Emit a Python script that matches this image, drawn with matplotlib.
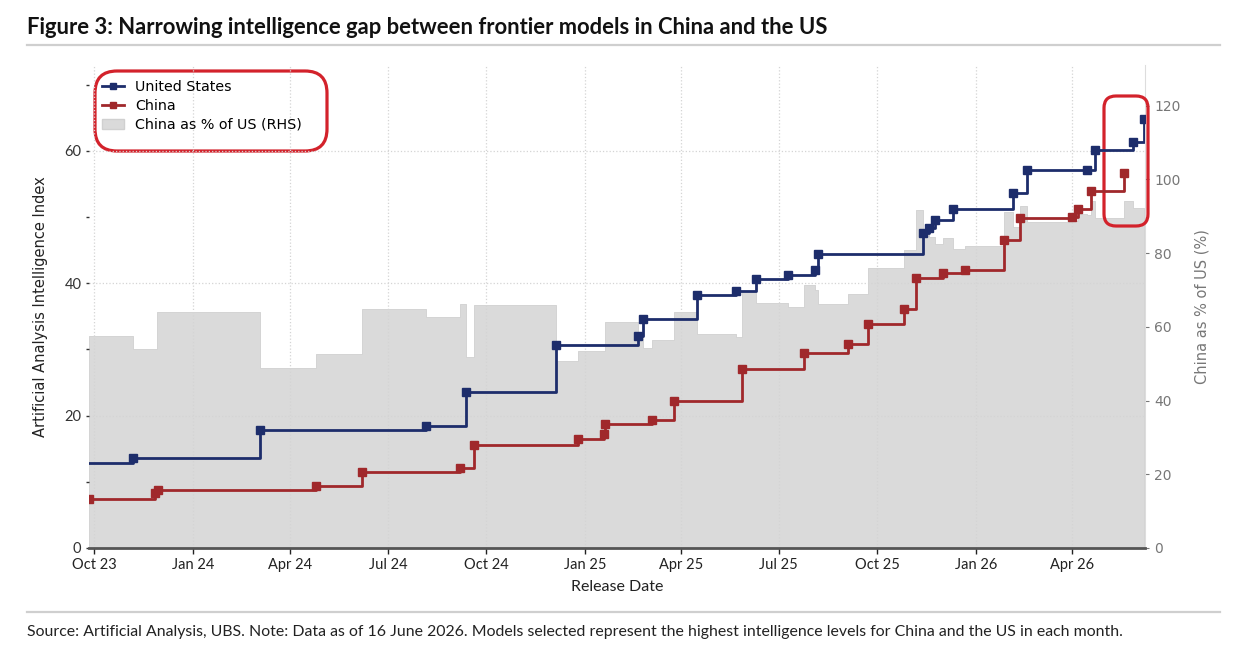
# Narrowing intelligence gap between frontier models in China and the US
import pandas as pd
import matplotlib
matplotlib.use("Agg")
import matplotlib.pyplot as plt
import matplotlib.dates as mdates
from matplotlib.patches import Patch, FancyBboxPatch
from matplotlib.lines import Line2D
from matplotlib.transforms import IdentityTransform

# Artificial Analysis Intelligence Index, best model so far (step series)
us_dates = ['2023-09-01', '2023-11-06', '2024-03-04', '2024-08-06', '2024-09-12',
            '2024-12-05', '2025-02-20', '2025-02-24', '2025-04-16', '2025-05-22',
            '2025-06-10', '2025-07-10', '2025-08-04', '2025-08-07', '2025-11-13',
            '2025-11-18', '2025-11-24', '2025-12-11', '2026-02-05', '2026-02-18',
            '2026-04-15', '2026-04-22', '2026-05-28', '2026-06-07']
us_index = [12.8, 13.6, 17.8, 18.5, 23.6, 30.7, 32.0, 34.6, 38.3, 38.8,
            40.6, 41.3, 42.0, 44.5, 47.6, 48.4, 49.5, 51.3, 53.6, 57.1,
            57.2, 60.1, 61.4, 64.8]

cn_dates = ['2023-09-26', '2023-11-27', '2023-11-29', '2024-04-25', '2024-06-07',
            '2024-09-06', '2024-09-19', '2024-12-26', '2025-01-19', '2025-01-20',
            '2025-03-05', '2025-03-25', '2025-05-28', '2025-07-25', '2025-09-04',
            '2025-09-22', '2025-10-26', '2025-11-06', '2025-12-01', '2025-12-22',
            '2026-01-27', '2026-02-11', '2026-04-01', '2026-04-06', '2026-04-19',
            '2026-05-19']
cn_index = [7.4, 8.3, 8.8, 9.3, 11.5, 12.1, 15.5, 16.4, 17.2, 18.7,
            19.4, 22.2, 27.0, 29.4, 30.8, 33.8, 36.1, 40.8, 41.6, 42.0,
            46.6, 49.8, 50.0, 51.2, 53.9, 56.6]

pct_dates = ['2023-09-26', '2023-11-06', '2023-11-28', '2024-03-04', '2024-04-25',
             '2024-06-07', '2024-08-06', '2024-09-06', '2024-09-12', '2024-09-19',
             '2024-12-05', '2024-12-26', '2025-01-20', '2025-02-20', '2025-02-24',
             '2025-03-05', '2025-03-25', '2025-04-16', '2025-05-22', '2025-05-28',
             '2025-06-10', '2025-07-10', '2025-07-25', '2025-08-04', '2025-08-07',
             '2025-09-04', '2025-09-22', '2025-10-26', '2025-11-06', '2025-11-13',
             '2025-11-18', '2025-11-24', '2025-12-01', '2025-12-11', '2025-12-22',
             '2026-01-27', '2026-02-05', '2026-02-11', '2026-02-18', '2026-04-01',
             '2026-04-06', '2026-04-15', '2026-04-19', '2026-04-22', '2026-05-19',
             '2026-05-28', '2026-06-07']
pct_values = [57.6, 53.9, 64.1, 48.7, 52.6, 64.8, 62.7, 66.1, 51.7, 65.9,
              50.8, 53.5, 61.2, 57.5, 54.2, 56.5, 64.1, 58.0, 57.2, 69.6,
              66.5, 65.4, 71.2, 70.0, 66.1, 69.0, 76.0, 80.8, 91.6, 85.7,
              84.3, 82.4, 84.0, 81.1, 81.9, 91.0, 87.0, 92.8, 88.5, 88.8,
              90.5, 90.2, 94.0, 89.6, 94.1, 92.2, 87.3]

title = "Figure 3: Narrowing intelligence gap between frontier models in China and the US"
source = ("Source: Artificial Analysis, UBS. Note: Data as of 16 June 2026. Models selected "
          "represent the highest intelligence levels for China and the US in each month.")

us_d = pd.to_datetime(us_dates)
cn_d = pd.to_datetime(cn_dates)
pct_d = pd.to_datetime(pct_dates)

navy = '#1d2d6b'
red = '#a0282b'
grey = '#dadada'

fig = plt.figure(figsize=(12.35, 6.53), dpi=100)
ax = fig.add_axes([0.0721, 0.1608, 0.8550, 0.7397])
ax2 = ax.twinx()

# grey area on the right axis, behind the lines
ax2.fill_between(pct_d, pct_values, step='post', facecolor=grey,
                 edgecolor='#d0d0d0', linewidth=0.6)
ax2.set_ylim(0, 131)
ax2.set_yticks(range(0, 121, 20))
ax2.tick_params(axis='y', colors='#777777', labelsize=10, length=3, width=0.8)
ax2.set_ylabel('China as % of US (%)', color='#777777', fontsize=10.5, labelpad=10)
for s in ['top', 'left', 'bottom']:
    ax2.spines[s].set_visible(False)
ax2.spines['right'].set_color('#dddddd')

ax.set_zorder(ax2.get_zorder() + 1)
ax.patch.set_visible(False)

ax.step(us_d, us_index, where='post', color=navy, lw=2, marker='s', ms=6,
        label='United States')
ax.step(cn_d, cn_index, where='post', color=red, lw=2, marker='s', ms=6,
        label='China')

ax.set_xlim(pd.Timestamp('2023-09-26'), pd.Timestamp('2026-06-08'))
ax.set_ylim(0, 73)
ax.set_yticks([0, 20, 40, 60])
ax.set_yticks([10, 30, 50, 70], minor=True)
ax.xaxis.set_major_locator(mdates.MonthLocator(bymonth=[1, 4, 7, 10]))
ax.xaxis.set_major_formatter(mdates.DateFormatter('%b %y'))
ax.tick_params(axis='x', labelsize=10.5, length=4, width=1, colors='#222222', pad=3)
ax.tick_params(axis='y', which='both', labelsize=10.5, length=2, width=1, colors='#333333')
for lab in ax.get_xticklabels() + ax.get_yticklabels():
    lab.set_family('Lato')
ax.grid(True, which='major', color='#d4d4d4', linestyle=':', linewidth=0.9)
for s in ['top', 'left', 'right']:
    ax.spines[s].set_visible(False)
ax.spines['bottom'].set_color('#555555')
ax.spines['bottom'].set_linewidth(2)

ax.set_xlabel('Release Date', family='Lato', fontsize=11.5, color='#222222', labelpad=6)
ax.set_ylabel('Artificial Analysis Intelligence Index', fontsize=10.5, color='#222222',
              labelpad=12)

handles = [Line2D([], [], color=navy, lw=2, marker='s', ms=5),
           Line2D([], [], color=red, lw=2, marker='s', ms=5),
           Patch(facecolor=grey, edgecolor='#d0d0d0')]
ax.legend(handles, ['United States', 'China', 'China as % of US (RHS)'],
          loc='upper left', bbox_to_anchor=(0.003, 0.99), frameon=False,
          fontsize=10.3, handlelength=1.5, handletextpad=0.8, labelspacing=0.35,
          borderaxespad=0.3)

# title, rules and source line
fig.text(0.022, 0.958, title, family='Lato', weight='bold', fontsize=15.8,
         va='center', ha='left', color='#111111')
fig.add_artist(Line2D([0.022, 0.988], [0.931, 0.931], color='#cfcfcf', lw=1.6))
fig.add_artist(Line2D([0.022, 0.988], [0.0628, 0.0628], color='#cfcfcf', lw=1.6))
fig.text(0.022, 0.032, source, family='Lato', fontsize=11.45, va='center', ha='left',
         color='#222222')

# red highlight boxes
for x0, y0, w, h, r in [(95, 653 - 151, 232, 80, 22), (1104, 653 - 226, 44, 130, 12)]:
    fig.add_artist(FancyBboxPatch((x0, y0), w, h,
                                  boxstyle='round,pad=0,rounding_size=%d' % r,
                                  transform=IdentityTransform(), fill=False,
                                  edgecolor='#d3222b', linewidth=2.3))

fig.savefig('out.png', dpi=100)
